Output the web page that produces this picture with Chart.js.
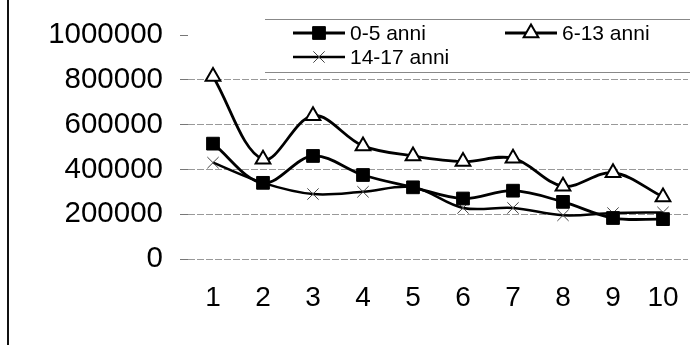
<!DOCTYPE html>
<html>
<head>
<meta charset="utf-8">
<script src="https://cdn.jsdelivr.net/npm/chart.js@4.4.1/dist/chart.umd.min.js"></script>
<style>
  html, body { margin: 0; padding: 0; background: #fff; }
  #wrap { width: 700px; height: 345px; position: relative; }
</style>
</head>
<body>
<div id="wrap"><canvas id="chart" width="700" height="345"></canvas></div>
<script>
const categories = ['1', '2', '3', '4', '5', '6', '7', '8', '9', '10'];
const seriesNames = ['0-5 anni', '6-13 anni', '14-17 anni'];
const anni0_5 = [515000, 340000, 460000, 375000, 320000, 270000, 305000, 255000, 183000, 178000];
const anni6_13 = [815000, 445000, 640000, 505000, 460000, 435000, 450000, 325000, 385000, 277000];
const anni14_17 = [430000, 340000, 290000, 300000, 320000, 228000, 228000, 195000, 205000, 208000];
const yTicks = [0, 200000, 400000, 600000, 800000, 1000000];

const FONT = '"Liberation Sans", Arial, sans-serif';

// legend sits over the top of the plot, like the original
const legendBox = { left: 265, top: 19, right: 690, bottom: 72 };
const legendSlots = [{ x: 293, y: 33 }, { x: 505, y: 33 }, { x: 293, y: 57 }];

const framePlugin = {
  id: 'frame',
  beforeDraw(chart) {
    const c = chart.ctx;
    c.save();
    c.fillStyle = '#fff';
    c.fillRect(0, 0, chart.width, chart.height);
    c.strokeStyle = '#111';
    c.lineWidth = 2;
    c.beginPath();
    c.moveTo(8, 0);
    c.lineTo(8, chart.height);
    c.stroke();
    c.restore();
  }
};

const legendPlugin = {
  id: 'boxLegend',
  afterDraw(chart) {
    const c = chart.ctx;
    c.save();
    c.fillStyle = '#fff';
    c.fillRect(legendBox.left, legendBox.top, legendBox.right - legendBox.left, legendBox.bottom - legendBox.top);
    c.strokeStyle = '#888';
    c.lineWidth = 1;
    c.beginPath();
    c.moveTo(legendBox.left, legendBox.top + 0.5);
    c.lineTo(legendBox.right, legendBox.top + 0.5);
    c.moveTo(legendBox.left, legendBox.bottom + 0.5);
    c.lineTo(legendBox.right, legendBox.bottom + 0.5);
    c.stroke();

    chart.data.datasets.forEach((ds, i) => {
      const s = legendSlots[i];
      c.strokeStyle = ds.borderColor;
      c.lineWidth = ds.borderWidth;
      c.beginPath();
      c.moveTo(s.x, s.y);
      c.lineTo(s.x + 52, s.y);
      c.stroke();

      c.fillStyle = ds.pointBackgroundColor;
      c.strokeStyle = ds.pointBorderColor;
      c.lineWidth = ds.pointBorderWidth;
      Chart.helpers.drawPoint(c, {
        pointStyle: ds.pointStyle,
        radius: ds.pointRadius,
        rotation: 0,
        borderWidth: ds.pointBorderWidth
      }, s.x + 26, s.y);

      c.fillStyle = '#000';
      c.font = '21px ' + FONT;
      c.textBaseline = 'middle';
      c.textAlign = 'left';
      c.fillText(ds.label, s.x + 57, s.y + 1);
    });
    c.restore();
  }
};

new Chart(document.getElementById('chart'), {
  type: 'line',
  data: {
    labels: categories,
    datasets: [
      {
        label: seriesNames[0],
        data: anni0_5,
        borderColor: '#000',
        borderWidth: 2.8,
        pointStyle: 'rect',
        pointRadius: 9,
        pointBackgroundColor: '#000',
        pointBorderColor: '#000',
        pointBorderWidth: 1
      },
      {
        label: seriesNames[1],
        data: anni6_13,
        borderColor: '#000',
        borderWidth: 2.8,
        pointStyle: 'triangle',
        pointRadius: 8.5,
        pointBackgroundColor: '#fff',
        pointBorderColor: '#000',
        pointBorderWidth: 2
      },
      {
        label: seriesNames[2],
        data: anni14_17,
        borderColor: '#000',
        borderWidth: 2.5,
        pointStyle: 'crossRot',
        pointRadius: 8,
        pointBackgroundColor: '#444',
        pointBorderColor: '#444',
        pointBorderWidth: 1
      }
    ]
  },
  options: {
    responsive: false,
    animation: false,
    devicePixelRatio: 1,
    elements: { line: { tension: 0.35, fill: false } },
    layout: { padding: { left: 0, top: 35, right: 12, bottom: 30 } },
    plugins: {
      legend: { display: false },
      tooltip: { enabled: false }
    },
    scales: {
      x: {
        offset: true,
        grid: { display: false },
        border: { display: false },
        ticks: {
          color: '#000',
          padding: 14,
          font: { family: FONT, size: 28 },
          maxRotation: 0
        },
        afterFit(scale) { scale.height = 56; }
      },
      y: {
        min: 0,
        max: 1000000,
        afterBuildTicks(scale) {
          scale.ticks = yTicks.map(v => ({ value: v }));
        },
        afterFit(scale) { scale.width = 188; },
        grid: {
          color: ctx => (ctx.tick && ctx.tick.value === 1000000) ? 'rgba(0,0,0,0)' : '#999',
          tickColor: '#777',
          tickLength: 8,
          lineWidth: 1
        },
        border: { display: false, dash: [7, 2] },
        ticks: {
          color: '#000',
          padding: 17,
          font: { family: FONT, size: 29.5 },
          callback: v => String(v)
        }
      }
    }
  },
  plugins: [framePlugin, legendPlugin]
});
</script>
</body>
</html>
